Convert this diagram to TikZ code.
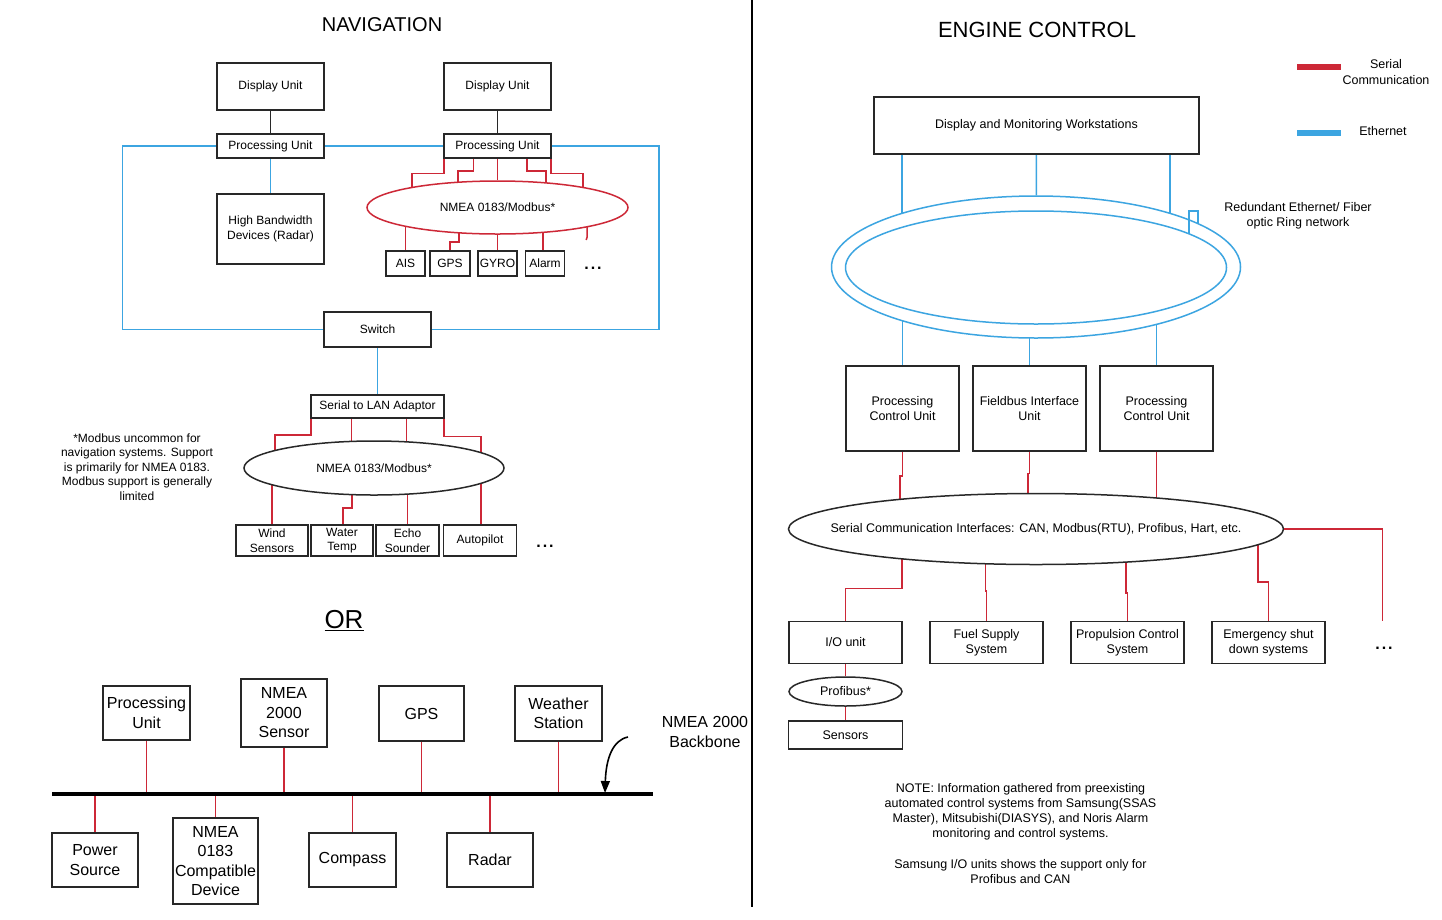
\documentclass[tikz,border=0pt]{standalone}
\usepackage{fontspec}
\setmainfont{Liberation Sans}
\usetikzlibrary{shapes.geometric,arrows.meta,calc}
\definecolor{serred}{RGB}{205,40,55}
\definecolor{ethblue}{RGB}{60,165,225}
\definecolor{boxline}{RGB}{40,40,40}
\pgfdeclarelayer{bg}
\pgfdeclarelayer{canvas}
\pgfsetlayers{canvas,bg,main}
\newcommand{\myfs}[2]{\fontsize{#1}{#2}\selectfont}
\begin{document}
\begin{tikzpicture}[x=1pt,y=-1pt,
  sz/.style 2 args={minimum width=#1,minimum height=#2},
  nbox/.style={draw=boxline,line width=1.5pt,fill=white,rectangle,align=center,inner sep=1pt,font=\myfs{12}{14.5}},
  rbox/.style={nbox,font=\myfs{12.5}{15}},
  bbox/.style={nbox,font=\myfs{16}{19.5}},
  ell/.style={ellipse,line width=1.5pt,fill=white,inner sep=0pt},
  txt/.style={align=center,inner sep=0pt,font=\myfs{12}{14.5}},
  rtxt/.style={align=center,inner sep=0pt,font=\myfs{12.5}{15.2}},
  ser/.style={draw=serred,line width=1.5pt},
  eth/.style={draw=ethblue,line width=1.5pt},
  blk/.style={draw=boxline,line width=1.6pt},
  dots/.style={inner sep=0pt,font=\myfs{16}{16}\bfseries}
]
\useasboundingbox (0,0) rectangle (1442,919);
\begin{pgfonlayer}{canvas}
  \fill[white] (0,0) rectangle (1442,919);
\end{pgfonlayer}

% divider
\coordinate (divT) at (752,0);
\coordinate (divB) at (752,907);
\draw[line width=2.2pt] (divT) -- (divB);

% ================= NAVIGATION =================
\node[inner sep=0pt,font=\myfs{20}{24}] (navt) at (382,25) {NAVIGATION};

\node[nbox,sz={107pt}{47pt}] (du1) at (270.5,86.5) {Display Unit};
\node[nbox,sz={107pt}{47pt}] (du2) at (497.5,86.5) {Display Unit};
\node[nbox,sz={107pt}{24pt}] (pu1) at (270.5,146) {Processing Unit};
\node[nbox,sz={107pt}{24pt}] (pu2) at (497.5,146) {Processing Unit};
\node[nbox,sz={107pt}{70pt}] (hbd) at (270.5,229) {High Bandwidth\\Devices (Radar)};
\node[nbox,sz={107pt}{35pt}] (sw) at (377.5,329.5) {Switch};

\node[ell,draw=serred,sz={261pt}{53pt}] (e1) at (497.5,207.5) {};
\node[txt] (e1t) at (e1.center) {NMEA 0183/Modbus*};

\node[nbox,sz={39pt}{25pt}] (ais) at (405.5,263.5) {AIS};
\node[nbox,sz={40pt}{25pt}] (gps) at (450,263.5) {GPS};
\node[nbox,sz={39pt}{25pt}] (gyro) at (497.5,263.5) {GYRO};
\node[nbox,sz={39pt}{25pt}] (alarm) at (545,263.5) {Alarm};
\node[dots] (dots1) at (593,268) {.\kern2pt.\kern2pt.};

\node[nbox,sz={133pt}{23pt}] (adp) at (377.5,406.5) {Serial to LAN Adaptor};
\node[ell,draw=boxline,sz={260pt}{54pt}] (e2) at (374,468) {};
\node[txt] (e2t) at (e2.center) {NMEA 0183/Modbus*};

\node[nbox,sz={72pt}{31pt}] (wind) at (272,540.5) {Wind\\Sensors};
\node[nbox,sz={62pt}{31pt}] (water) at (342,540.5) {Water\\Temp};
\node[nbox,sz={63pt}{31pt}] (echo) at (407.5,540.5) {Echo\\Sounder};
\node[nbox,sz={73pt}{31pt}] (auto) at (480,540.5) {Autopilot};
\node[dots] (dots2) at (545,546) {.\kern2pt.\kern2pt.};

\node[txt] (mnote) at (137,467) {*Modbus uncommon for\\navigation systems. Support\\is primarily for NMEA 0183.\\Modbus support is generally\\limited};

% OR
\node[inner sep=0pt,font=\myfs{26}{30}] (or) at (344,621) {\underline{OR}};

% NMEA 2000 backbone
\coordinate (bbL) at (52,794);
\coordinate (bbR) at (653,794);
\node[bbox,sz={87pt}{54pt}] (bpu) at (146.5,713) {Processing\\Unit};
\node[bbox,sz={86pt}{68pt}] (bns) at (284,713) {NMEA\\2000\\Sensor};
\node[bbox,sz={85pt}{55pt}] (bgps) at (421.5,713.5) {GPS};
\node[bbox,sz={87pt}{55pt}] (bws) at (558.5,713.5) {Weather\\Station};
\node[bbox,sz={86pt}{54pt}] (bps) at (95,860) {Power\\Source};
\node[bbox,sz={85pt}{86pt}] (bnc) at (215.5,861) {NMEA\\0183\\Compatible\\Device};
\node[bbox,sz={87pt}{54pt}] (bcmp) at (352.5,860) {Compass};
\node[bbox,sz={86pt}{54pt}] (brad) at (490,860) {Radar};
\node[align=center,inner sep=0pt,font=\myfs{16}{19.5}] (bbt) at (705,732) {NMEA 2000\\Backbone};

\begin{pgfonlayer}{bg}
  % black
  \draw[blk] (du1) -- (pu1);
  \draw[blk] (du2) -- (pu2);
  % ethernet loop
  \draw[eth] (pu1.west) -- ++(-94,0) |- (sw.west);
  \draw[eth] (pu1) -- (pu2);
  \draw[eth] (pu2.east) -- ++(107,0) |- (sw.east);
  \draw[eth] (pu1) -- (hbd);
  \draw[eth] (sw) -- (adp);
  % serial pu2 -> e1
  \draw[ser] ([xshift=0.8pt]pu2.south west) -- ++(0,14.8) -| ([xshift=-85.5pt]e1.center);
  \draw[ser] ([xshift=-24pt]pu2.south) -- ++(0,12) -| ([xshift=-39.5pt]e1.center);
  \draw[ser] (pu2) -- (e1);
  \draw[ser] ([xshift=29.5pt]pu2.south) -- ++(0,12) -| ([xshift=48.5pt]e1.center);
  \draw[ser] ([xshift=-0.8pt]pu2.south east) -- ++(0,14.8) -| ([xshift=85.5pt]e1.center);
  % e1 -> devices
  \draw[ser] (e1 -| ais) -- (ais);
  \draw[ser] ([xshift=-38.5pt]e1.center) -- ++(0,34.5) -| (gps);
  \draw[ser] (e1) -- (gyro);
  \draw[ser] ([xshift=-2pt]e1 -| alarm) -- ([xshift=-2pt]alarm.center);
  \draw[ser] ([xshift=89.5pt]e1.center) -- ++(0,30) -- ++(-0.8,2.5);
  % adaptor -> e2
  \draw[ser] ([xshift=0.8pt]adp.south west) -- ++(0,16) -| ([xshift=-99pt]e2.center);
  \draw[ser] ([xshift=-26pt]adp.south) -- ([xshift=-22.5pt]e2.center);
  \draw[ser] ([xshift=29pt]adp.south) -- ([xshift=32.5pt]e2.center);
  \draw[ser] ([xshift=-0.8pt]adp.south east) -- ++(0,17.5) -| ([xshift=107pt]e2.center);
  % e2 -> devices
  \draw[ser] (e2 -| wind) -- (wind);
  \draw[ser] ([xshift=-22pt]e2.center) -- ++(0,40) -| ([xshift=1pt]water.center);
  \draw[ser] (e2 -| echo) -- (echo);
  \draw[ser] ([xshift=1pt]e2 -| auto) -- ([xshift=1pt]auto.center);
  % backbone drops
  \draw[ser] (bpu) -- (bpu |- bbL);
  \draw[ser] (bns) -- (bns |- bbL);
  \draw[ser] (bgps) -- (bgps |- bbL);
  \draw[ser] (bws) -- (bws |- bbL);
  \draw[ser] (bps) -- (bps |- bbL);
  \draw[ser] (bnc) -- (bnc |- bbL);
  \draw[ser] (bcmp) -- (bcmp |- bbL);
  \draw[ser] (brad) -- (brad |- bbL);
\end{pgfonlayer}

\draw[line width=4.5pt] (bbL) -- (bbR);
\coordinate (arS) at (628,737);
\coordinate (arE) at (605,793);
\draw[line width=1.6pt,-{Triangle[length=12pt,width=9pt]}] (arS) .. controls (613,740) and (606,758) .. (arE);

% ================= ENGINE CONTROL =================
\node[inner sep=0pt,font=\myfs{22}{26}] (engt) at (1037,30) {ENGINE CONTROL};

% legend
\coordinate (lgR1) at (1297,67);
\coordinate (lgR2) at (1341,67);
\coordinate (lgB1) at (1297,133);
\coordinate (lgB2) at (1341,133);
\draw[serred,line width=6.5pt] (lgR1) -- (lgR2);
\draw[ethblue,line width=6.5pt] (lgB1) -- (lgB2);
\node[rtxt] (lgRt) at (1386,72) {Serial\\Communication};
\node[rtxt] (lgBt) at (1383,131) {Ethernet};

\node[rbox,sz={325pt}{57pt}] (dmw) at (1036.5,125.5) {Display and Monitoring Workstations};
\node[ell,draw=ethblue,sz={409pt}{142pt}] (ring) at (1036,267) {};
\node[ellipse,draw=ethblue,line width=1.5pt,inner sep=0pt,sz={381pt}{113pt}] (ringin) at (1036,267.5) {};
\draw[eth] ($(ring.center)+(153,-33)$) -- ($(ring.center)+(153,-56)$) -- ($(ring.center)+(162,-56)$) -- ($(ring.center)+(162,-44)$);
\node[rtxt] (ringt) at (1298,216) {Redundant Ethernet/ Fiber\\optic Ring network};

\node[rbox,sz={113pt}{85pt}] (pcu1) at (902.5,408.5) {Processing\\Control Unit};
\node[rbox,sz={113pt}{85pt}] (fbi) at (1029.5,408.5) {Fieldbus Interface\\Unit};
\node[rbox,sz={113pt}{85pt}] (pcu2) at (1156.5,408.5) {Processing\\Control Unit};

\node[ell,draw=boxline,sz={495pt}{71pt}] (sci) at (1036,529) {};
\node[rtxt] (scit) at (sci.center) {Serial Communication Interfaces: CAN, Modbus(RTU), Profibus, Hart, etc.};

\node[rbox,sz={113pt}{42pt}] (io) at (845.5,642.5) {I/O unit};
\node[rbox,sz={113pt}{42pt}] (fuel) at (986.5,642.5) {Fuel Supply\\System};
\node[rbox,sz={113pt}{42pt}] (prop) at (1127.5,642.5) {Propulsion Control\\System};
\node[rbox,sz={113pt}{42pt}] (emer) at (1268.5,642.5) {Emergency shut\\down systems};
\node[dots] (dots3) at (1384,648) {.\kern2pt.\kern2pt.};

\node[ell,draw=boxline,sz={113pt}{29pt}] (prof) at (845.5,691.5) {};
\node[rtxt] (proft) at (prof.center) {Profibus*};
\node[rbox,sz={114pt}{28pt}] (sens) at (845.5,735) {Sensors};

\node[rtxt] (note) at (1020.5,833.5) {NOTE: Information gathered from preexisting\\automated control systems from Samsung(SSAS\\Master), Mitsubishi(DIASYS), and Noris Alarm\\monitoring and control systems.\\[15.2pt]Samsung I/O units shows the support only for\\Profibus and CAN};

\coordinate (sciEnd) at (1382.5,621);
\draw[ser] (sci.east) -| (sciEnd);

\begin{pgfonlayer}{bg}
  \draw[eth] ([xshift=-134.5pt]dmw.center) -- ([xshift=-134pt]ring.center);
  \draw[eth] (dmw) -- (ring);
  \draw[eth] ([xshift=133.5pt]dmw.center) -- ([xshift=134pt]ring.center);
  \draw[eth] (ring -| pcu1) -- (pcu1);
  \draw[eth] (ring -| fbi) -- (fbi);
  \draw[eth] (ring -| pcu2) -- (pcu2);
  \draw[ser] (pcu1.south) -- ++(0,24) -| ([xshift=-136pt]sci.center);
  \draw[ser] (fbi.south) -- ++(0,21.5) -| ([xshift=-8pt]sci.center);
  \draw[ser] (pcu2) -- (sci -| pcu2);
  \draw[ser] ([xshift=-134pt]sci.center) -- ++(0,59.5) -| (io);
  \draw[ser] ([xshift=-50.5pt]sci.center) -- ++(0,62) -| (fuel);
  \draw[ser] ([xshift=90pt]sci.center) -- ++(0,64) -| (prop);
  \draw[ser] ([xshift=222pt]sci.center) -- ++(0,53) -| (emer);
  \draw[ser] (io) -- (prof);
  \draw[ser] (prof) -- (sens);
\end{pgfonlayer}
\end{tikzpicture}
\end{document}
